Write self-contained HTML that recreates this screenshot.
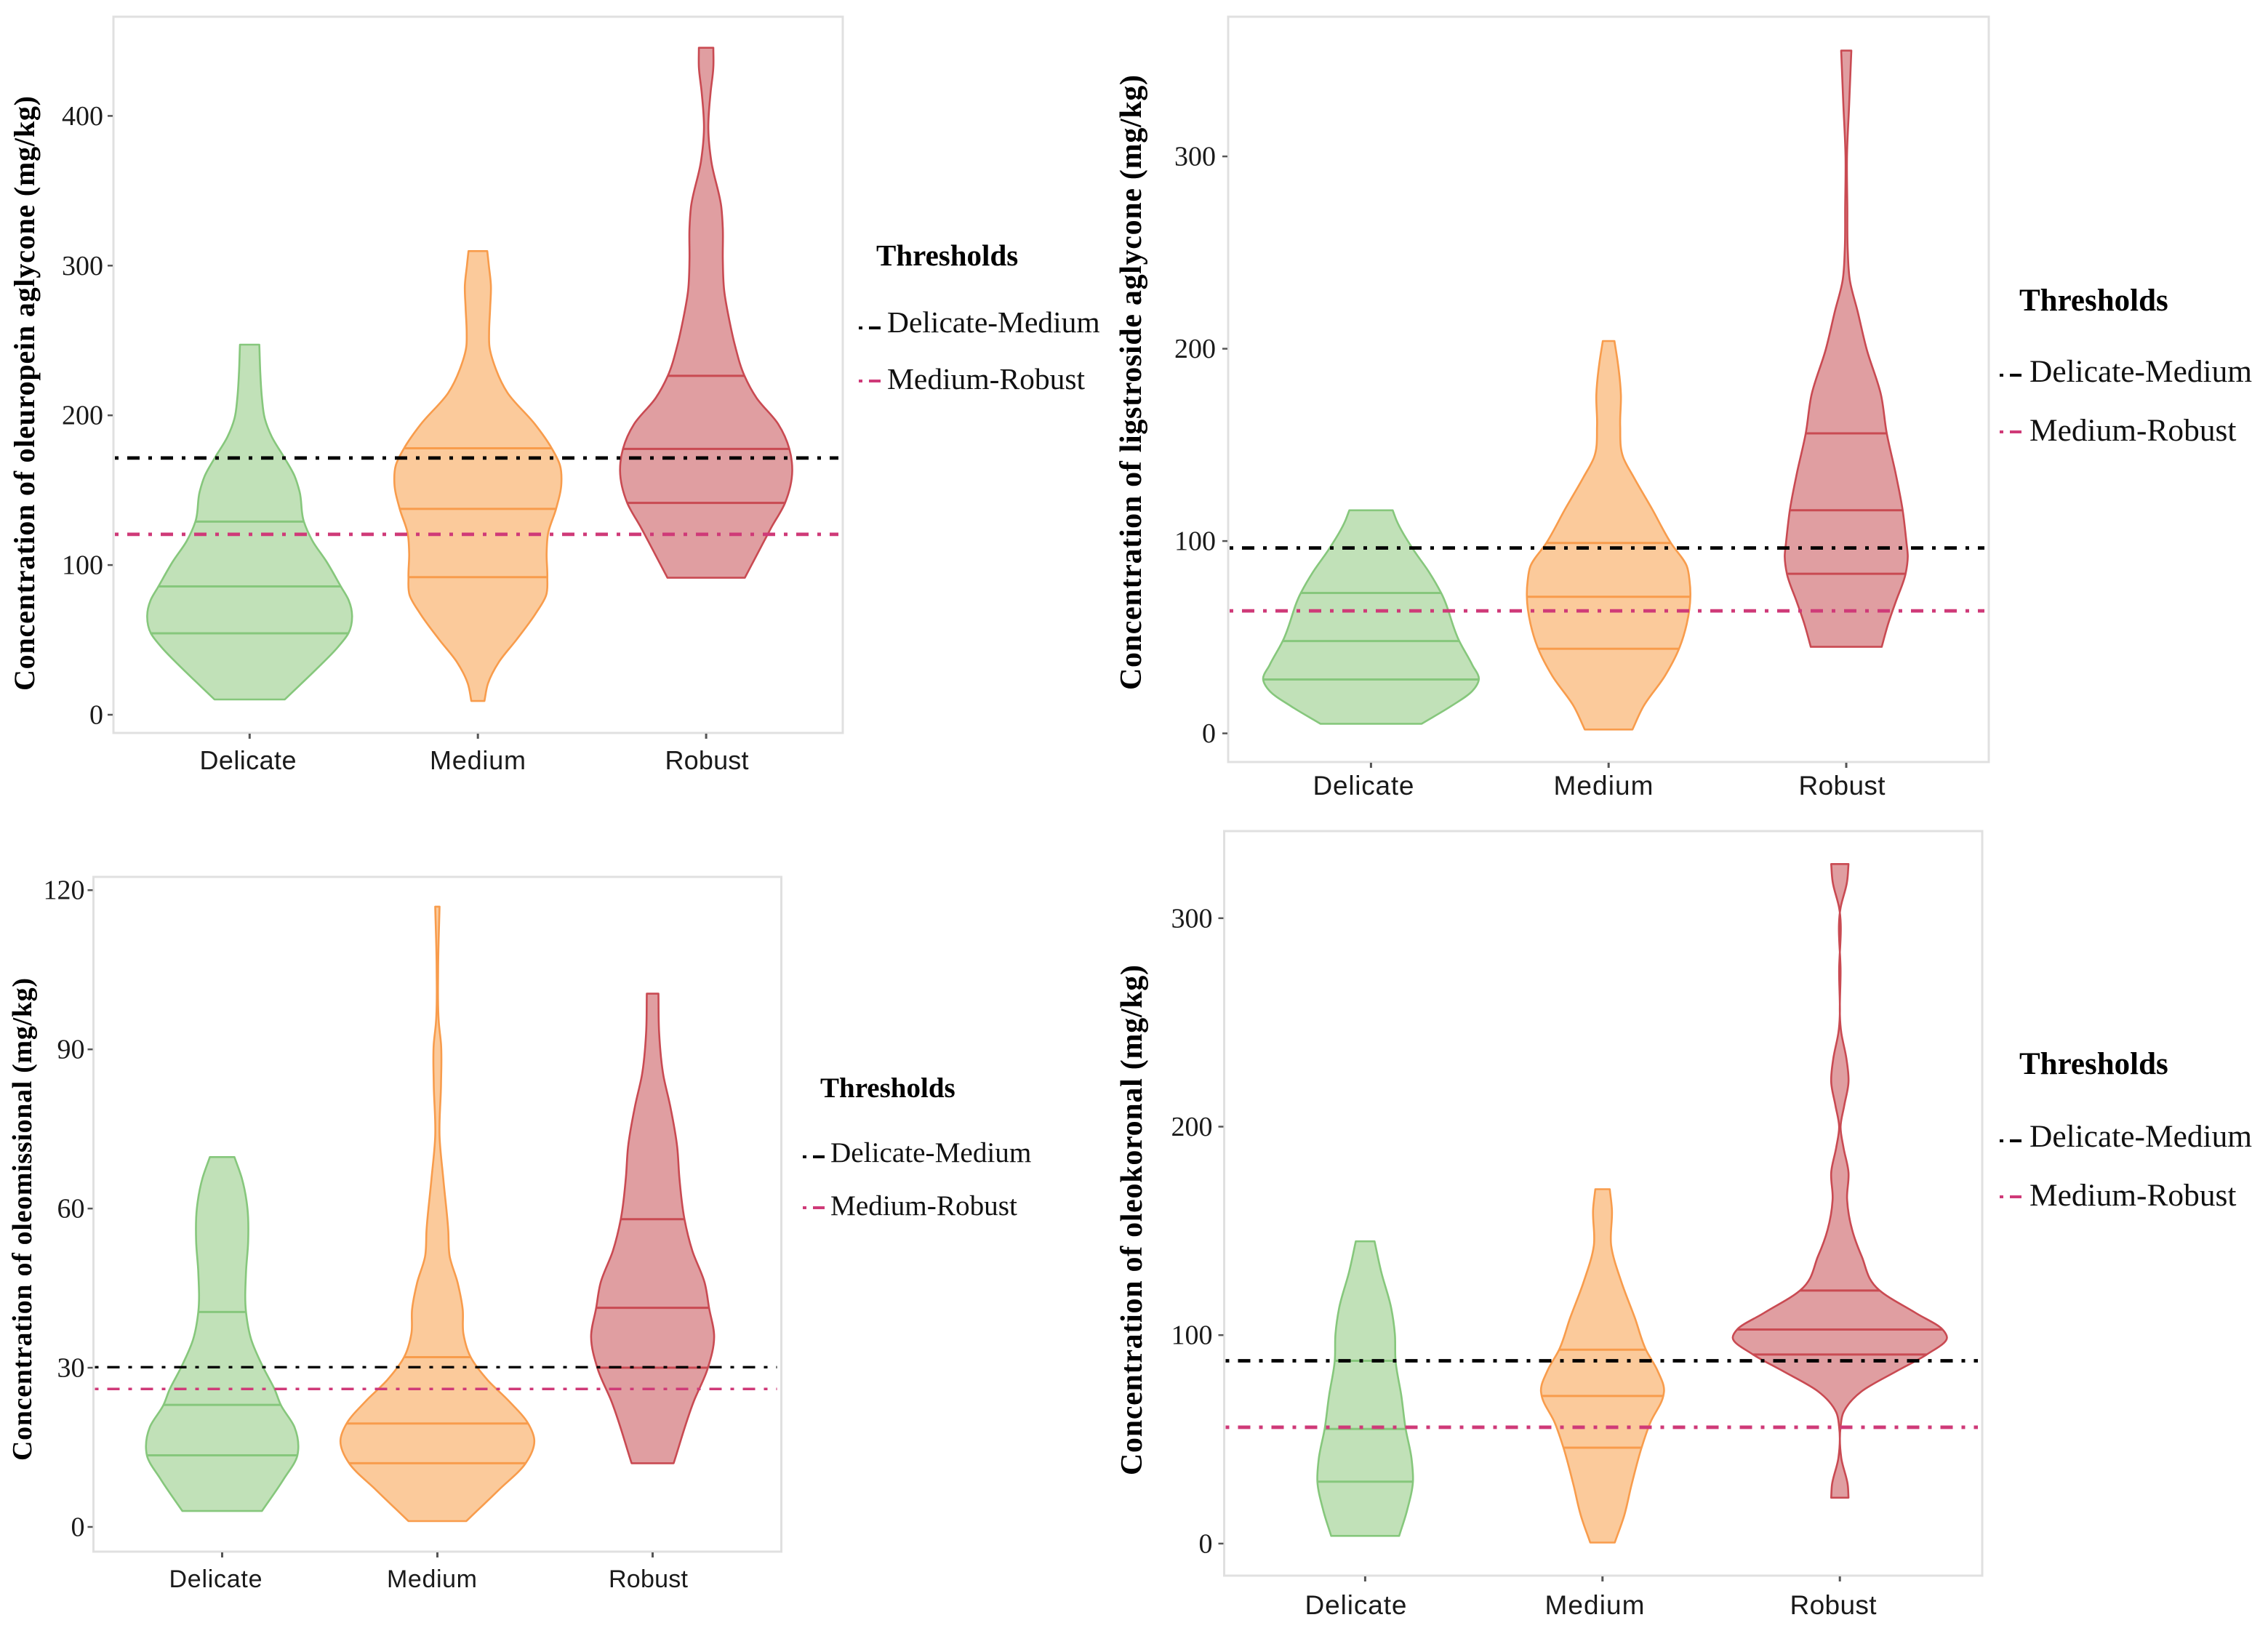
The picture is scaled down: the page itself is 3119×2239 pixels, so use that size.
<!DOCTYPE html>
<html lang="en">
<head>
<meta charset="utf-8">
<title>Phenolic concentration by olive oil category</title>
<style>
html,body{margin:0;padding:0;background:#fff;}
body{width:3119px;height:2239px;overflow:hidden;}
svg{display:block;}
</style>
</head>
<body>
<svg id="figure" xmlns="http://www.w3.org/2000/svg" width="3119" height="2239" viewBox="0 0 3119 2239"></svg>
<script>
// Shared categories
const categories = ["Delicate", "Medium", "Robust"];

// Panel 1: oleuropein aglycone
const oleuropeinTicks = [0, 100, 200, 300, 400];
const oleuropeinThresholds = [171.5, 120.5];
const oleuropeinDelicateLevels = [247.2, 229, 211.7, 197.8, 185.7, 171.7, 159.6, 149, 129, 116, 102.5, 85.7, 76.4, 66, 54.4, 45.2, 31.3, 10.2];
const oleuropeinDelicateDensity = [13.4, 14.7, 17, 21, 30.6, 48, 62, 69, 75, 87, 106, 126, 137, 141.6, 136.5, 122, 94, 48.5];
const oleuropeinDelicateQuartiles = [129, 85.7, 54.4];
const oleuropeinMediumLevels = [309.7, 300.7, 286.8, 272, 255, 246, 232.5, 215, 194, 178, 166.6, 154.4, 137.5, 121, 107.6, 91.9, 79.9, 67.7, 50.5, 35, 20.9, 9.2];
const oleuropeinMediumDensity = [13, 15, 18, 17, 15.5, 16, 23.6, 41, 79, 102, 113.5, 115.4, 108, 97, 95, 96, 94.4, 80, 54, 28.7, 14, 9];
const oleuropeinMediumQuartiles = [178, 137.5, 91.9];
const oleuropeinRobustLevels = [445.5, 432.6, 415, 391, 370, 339, 325, 304, 283, 263.7, 246.4, 226.4, 211.7, 194.2, 177.6, 163, 141.5, 125, 107.6, 91.5];
const oleuropeinRobustDensity = [10, 10, 6, 3, 7, 21, 23, 23, 25, 32, 40, 53, 69.5, 99.5, 115, 119, 109, 90, 71, 53.5];
const oleuropeinRobustQuartiles = [226.4, 177.6, 141.5];

// Panel 2: ligstroside aglycone
const ligstrosideTicks = [0, 100, 200, 300];
const ligstrosideThresholds = [96.4, 63.7];
const ligstrosideDelicateLevels = [116, 111, 96.4, 84, 73, 48, 35.6, 28, 22, 14, 5];
const ligstrosideDelicateDensity = [30, 35, 57, 80, 97, 122, 140, 149, 140, 110, 70];
const ligstrosideDelicateQuartiles = [73, 48, 28];
const ligstrosideMediumLevels = [204, 192, 176, 160, 143.7, 133, 116.7, 99, 87, 79, 71, 57, 43.7, 30, 14, 2];
const ligstrosideMediumDensity = [8, 13, 17, 16, 20, 35, 60, 86, 108, 112, 113, 108, 97, 78, 48, 33];
const ligstrosideMediumQuartiles = [99, 71, 44];
const ligstrosideRobustLevels = [355, 327, 300, 273, 251.7, 235.5, 219, 200, 176, 156, 135.6, 116, 100, 92, 83, 68, 57, 45];
const ligstrosideRobustDensity = [7, 4, 1, 1.5, 2, 5, 16, 28, 48, 56, 68, 78, 83, 85, 82, 68, 58, 49];
const ligstrosideRobustQuartiles = [156, 116, 83];

// Panel 3: oleomissional
const oleomissionalTicks = [0, 30, 60, 90, 120];
const oleomissionalThresholds = [30.1, 26];
const oleomissionalDelicateLevels = [69.7, 65.8, 60, 54, 48, 40.5, 35.4, 30, 25.8, 23, 18.8, 14.4, 13.5, 9, 3];
const oleomissionalDelicateDensity = [17, 27, 35, 36, 33, 33, 40, 57, 73, 81, 100, 105, 104, 85, 55];
const oleomissionalDelicateQuartiles = [40.5, 23, 13.5];
const oleomissionalMediumLevels = [116.9, 105, 95, 91, 83.4, 73.6, 65.8, 56, 51, 46, 41, 36.4, 32, 27.6, 23.7, 19.6, 16.3, 12, 7, 1.1];
const oleomissionalMediumDensity = [3, 1, 2, 5, 5, 3, 8, 15, 17, 28, 35, 36, 46, 70, 99, 125, 134, 122, 85, 40];
const oleomissionalMediumQuartiles = [32, 19.5, 12];
const oleomissionalRobustLevels = [100.5, 93, 85, 79.5, 71.6, 65.8, 58, 52, 46, 41.3, 35.8, 29.8, 23.7, 12];
const oleomissionalRobustDensity = [8, 9, 15, 24, 34, 37, 44, 55, 72, 78, 85, 76, 57, 29];
const oleomissionalRobustQuartiles = [58, 41.3, 30];

// Panel 4: oleokoronal
const oleokoronalTicks = [0, 100, 200, 300];
const oleokoronalThresholds = [87.7, 55.8];
const oleokoronalDelicateLevels = [145, 130.6, 113, 100.7, 87.7, 70.8, 55, 41, 29.7, 16, 3.7];
const oleokoronalDelicateDensity = [13, 22, 36, 41, 42, 50, 56, 64, 66, 58, 47];
const oleokoronalDelicateQuartiles = [87.7, 55, 29.7];
const oleokoronalMediumLevels = [170, 160.5, 143, 125.6, 108, 93, 83, 73, 70.8, 58, 46, 28, 13.5, 0.5];
const oleokoronalMediumDensity = [10, 13, 12, 26, 45, 60, 76, 85, 84, 66, 54, 40, 30, 17];
const oleokoronalMediumQuartiles = [93, 70.8, 46];
const oleokoronalRobustLevels = [326, 317.5, 305, 275, 245, 232.7, 221.5, 210, 200, 190, 178, 165.5, 150.5, 138, 121.4, 110.6, 102.7, 98.7, 90.7, 83, 73, 63, 56, 41, 28, 22];
const oleokoronalRobustDensity = [12, 10, 1, 1, 2, 9, 12, 6, 1, 5, 12, 10, 17, 30, 55, 105, 142, 148, 120, 80, 30, 5, 1, 2, 11, 12];
const oleokoronalRobustQuartiles = [121.4, 102.7, 90.7];

const svgNS = "http://www.w3.org/2000/svg";
const figure = document.getElementById("figure");
const fillColors = ["#c1e1b8", "#fbca9b", "#e09ea1"];
const strokeColors = ["#86c77c", "#f89c4c", "#c94a52"];
const thresholdColors = ["#000000", "#cf3a78"];
const legendLabels = ["Delicate-Medium", "Medium-Robust"];
const serif = '"Liberation Serif", serif';
const sans = '"Liberation Sans", sans-serif';

function make(tag, attrs, parent, text) {
  const node = document.createElementNS(svgNS, tag);
  for (const key in attrs) node.setAttribute(key, attrs[key]);
  if (text !== undefined) node.textContent = text;
  parent.appendChild(node);
  return node;
}

function widthAt(value, levels, density) {
  for (let i = 0; i < levels.length - 1; i++) {
    const hi = levels[i], lo = levels[i + 1];
    if (value <= hi && value >= lo) {
      const t = hi === lo ? 0 : (hi - value) / (hi - lo);
      return density[i] + (density[i + 1] - density[i]) * t;
    }
  }
  return value > levels[0] ? density[0] : density[density.length - 1];
}

// Cubic Hermite curve of x as a function of y, with non-uniform three-point tangents.
function smoothSegments(pts) {
  const n = pts.length;
  const slopes = [];
  for (let i = 0; i < n - 1; i++) slopes.push((pts[i + 1][0] - pts[i][0]) / (pts[i + 1][1] - pts[i][1]));
  const tangents = [];
  for (let i = 0; i < n; i++) {
    if (i === 0) tangents.push(slopes[0]);
    else if (i === n - 1) tangents.push(slopes[n - 2]);
    else {
      const h0 = pts[i][1] - pts[i - 1][1], h1 = pts[i + 1][1] - pts[i][1];
      tangents.push((h1 * slopes[i - 1] + h0 * slopes[i]) / (h0 + h1));
    }
  }
  let d = "";
  for (let i = 0; i < n - 1; i++) {
    const h = (pts[i + 1][1] - pts[i][1]) / 3;
    d += " C" + (pts[i][0] + tangents[i] * h).toFixed(1) + " " + (pts[i][1] + h).toFixed(1) + " " +
      (pts[i + 1][0] - tangents[i + 1] * h).toFixed(1) + " " + (pts[i + 1][1] - h).toFixed(1) + " " +
      pts[i + 1][0].toFixed(1) + " " + pts[i + 1][1].toFixed(1);
  }
  return d;
}

function drawPanel(cfg) {
  const group = make("g", {}, figure);
  
  

  const yScale = function (v) { return cfg.zeroY - v * cfg.pxPerUnit; };
  const xScale = function (i) { return cfg.firstX + i * cfg.stepX; };
  const widthScale = function (d) { return d * 0.995; };

  const frame = make("rect", {x: cfg.left, y: cfg.top, width: cfg.right - cfg.left, height: cfg.bottom - cfg.top, fill: "#ffffff", stroke: "#e0e0e0", "stroke-width": 3}, group);
  
  

  cfg.series.forEach(function (s, i) {
    const cx = xScale(i);
    const right = s.levels.map(function (v, k) { return [cx + widthScale(s.density[k]), yScale(v)]; });
    const left = s.levels.map(function (v, k) { return [cx - widthScale(s.density[k]), yScale(v)]; }).reverse();
    const d = "M" + right[0][0].toFixed(1) + " " + right[0][1].toFixed(1) + smoothSegments(right) +
      " L" + left[0][0].toFixed(1) + " " + left[0][1].toFixed(1) + smoothSegments(left) + " Z";
    const violin = make("path", {d: d, fill: fillColors[i], stroke: strokeColors[i], "stroke-width": 2.6, "stroke-linejoin": "round"}, group);
    
    

    s.quartiles.forEach(function (q) {
      const half = widthScale(widthAt(q, s.levels, s.density));
      const line = make("line", {x1: cx - half, x2: cx + half, y1: yScale(q), y2: yScale(q), stroke: strokeColors[i], "stroke-width": 3}, group);
      
      
    });
  });

  cfg.thresholds.forEach(function (t, i) {
    const line = make("line", {x1: cfg.left + 2, x2: cfg.right - 6, y1: yScale(t), y2: yScale(t), stroke: thresholdColors[i], "stroke-width": cfg.thresholdWidth, "stroke-dasharray": "5 12 17 12"}, group);
    
    
  });

  cfg.ticks.forEach(function (t) {
    const tick = make("line", {x1: cfg.left - 8, x2: cfg.left - 1, y1: yScale(t), y2: yScale(t), stroke: "#555555", "stroke-width": 2.5}, group);
    
    
    const label = make("text", {x: cfg.left - cfg.tickLabelGap, y: yScale(t) + 12.5, "text-anchor": "end", "font-family": serif, "font-size": 38, fill: "#1a1a1a"}, group, String(t));
    
    
  });

  categories.forEach(function (c, i) {
    const tick = make("line", {x1: xScale(i), x2: xScale(i), y1: cfg.bottom + 1, y2: cfg.bottom + 8, stroke: "#555555", "stroke-width": 3}, group);
    
    
    const label = make("text", {x: cfg.labelX[i], y: cfg.labelY, "text-anchor": "middle", "font-family": sans, "font-size": cfg.labelSize, fill: "#1a1a1a", textLength: cfg.labelLen[i]}, group, c);
    
    
  });

  const title = make("text", {x: cfg.titleX, y: cfg.titleY, "text-anchor": "middle", transform: "rotate(-90 " + cfg.titleX + " " + cfg.titleY + ")", "font-family": serif, "font-weight": "bold", "font-size": cfg.titleSize, fill: "#000000", textLength: cfg.titleLen}, group, cfg.title);
  
  

  const legend = make("g", {}, group);
  
  

  const legendTitle = make("text", {x: cfg.legendTitleX, y: cfg.legendTitleY, "font-family": serif, "font-weight": "bold", "font-size": cfg.legendTitleSize, fill: "#000000"}, legend, "Thresholds");
  
  

  legendLabels.forEach(function (name, i) {
    const key = make("line", {x1: cfg.keyX, x2: cfg.keyX + 30, y1: cfg.keyY[i], y2: cfg.keyY[i], stroke: thresholdColors[i], "stroke-width": 4, "stroke-dasharray": "5 9 16"}, legend);
    
    
    const label = make("text", {x: cfg.legendTextX, y: cfg.legendTextY[i], "font-family": serif, "font-size": cfg.legendTextSize, fill: "#111111"}, legend, name);
    
    
  });
}

drawPanel({
  slug: "oleuropein-aglycone", title: "Concentration of oleuropein aglycone (mg/kg)",
  left: 156, right: 1159, top: 23, bottom: 1008, zeroY: 983, pxPerUnit: 2.059,
  firstX: 343.3, stepX: 313.9, ticks: oleuropeinTicks, thresholds: oleuropeinThresholds, thresholdWidth: 4.8, tickLabelGap: 14,
  series: [
    {levels: oleuropeinDelicateLevels, density: oleuropeinDelicateDensity, quartiles: oleuropeinDelicateQuartiles},
    {levels: oleuropeinMediumLevels, density: oleuropeinMediumDensity, quartiles: oleuropeinMediumQuartiles},
    {levels: oleuropeinRobustLevels, density: oleuropeinRobustDensity, quartiles: oleuropeinRobustQuartiles}
  ],
  labelX: [341, 657, 972], labelY: 1058, labelLen: [133, 132, 115], labelSize: 36,
  titleX: 47, titleY: 541, titleSize: 40, titleLen: 818,
  legendTitleX: 1205, legendTitleY: 365, legendTitleSize: 41,
  keyX: 1181, keyY: [451, 524], legendTextX: 1220, legendTextY: [457, 535], legendTextSize: 41.5
});

drawPanel({
  slug: "ligstroside-aglycone", title: "Concentration of ligstroside aglycone (mg/kg)",
  left: 1689, right: 2735, top: 23, bottom: 1048, zeroY: 1008.6, pxPerUnit: 2.645,
  firstX: 1885.4, stepX: 326.8, ticks: ligstrosideTicks, thresholds: ligstrosideThresholds, thresholdWidth: 4.8, tickLabelGap: 17,
  series: [
    {levels: ligstrosideDelicateLevels, density: ligstrosideDelicateDensity, quartiles: ligstrosideDelicateQuartiles},
    {levels: ligstrosideMediumLevels, density: ligstrosideMediumDensity, quartiles: ligstrosideMediumQuartiles},
    {levels: ligstrosideRobustLevels, density: ligstrosideRobustDensity, quartiles: ligstrosideRobustQuartiles}
  ],
  labelX: [1875, 2205, 2533], labelY: 1093, labelLen: [139, 137, 119], labelSize: 37,
  titleX: 1569, titleY: 526, titleSize: 42, titleLen: 846,
  legendTitleX: 2777, legendTitleY: 427, legendTitleSize: 43,
  keyX: 2750, keyY: [516, 594], legendTextX: 2791, legendTextY: [525, 606], legendTextSize: 43.4
});

drawPanel({
  slug: "oleomissional", title: "Concentration of oleomissional (mg/kg)",
  left: 128.5, right: 1074.5, top: 1206, bottom: 2134, zeroY: 2100, pxPerUnit: 7.298,
  firstX: 305.5, stepX: 296, ticks: oleomissionalTicks, thresholds: oleomissionalThresholds, thresholdWidth: 3.4, tickLabelGap: 12,
  series: [
    {levels: oleomissionalDelicateLevels, density: oleomissionalDelicateDensity, quartiles: oleomissionalDelicateQuartiles},
    {levels: oleomissionalMediumLevels, density: oleomissionalMediumDensity, quartiles: oleomissionalMediumQuartiles},
    {levels: oleomissionalRobustLevels, density: oleomissionalRobustDensity, quartiles: oleomissionalRobustQuartiles}
  ],
  labelX: [296.5, 594, 891.5], labelY: 2183, labelLen: [128, 124, 109], labelSize: 34,
  titleX: 43, titleY: 1677, titleSize: 38, titleLen: 664,
  legendTitleX: 1128, legendTitleY: 1509, legendTitleSize: 39,
  keyX: 1104, keyY: [1591, 1661], legendTextX: 1142, legendTextY: [1598, 1671], legendTextSize: 39.2
});

drawPanel({
  slug: "oleokoronal", title: "Concentration of oleokoronal (mg/kg)",
  left: 1683.5, right: 2726, top: 1143, bottom: 2167, zeroY: 2122.9, pxPerUnit: 2.867,
  firstX: 1877.4, stepX: 326.4, ticks: oleokoronalTicks, thresholds: oleokoronalThresholds, thresholdWidth: 4.8, tickLabelGap: 16,
  series: [
    {levels: oleokoronalDelicateLevels, density: oleokoronalDelicateDensity, quartiles: oleokoronalDelicateQuartiles},
    {levels: oleokoronalMediumLevels, density: oleokoronalMediumDensity, quartiles: oleokoronalMediumQuartiles},
    {levels: oleokoronalRobustLevels, density: oleokoronalRobustDensity, quartiles: oleokoronalRobustQuartiles}
  ],
  labelX: [1864.5, 2193, 2521], labelY: 2220, labelLen: [140, 137, 119], labelSize: 37,
  titleX: 1570, titleY: 1678, titleSize: 42, titleLen: 702,
  legendTitleX: 2777, legendTitleY: 1477, legendTitleSize: 43,
  keyX: 2750, keyY: [1569, 1646], legendTextX: 2791, legendTextY: [1577, 1658], legendTextSize: 43.4
});
</script>
</body>
</html>
